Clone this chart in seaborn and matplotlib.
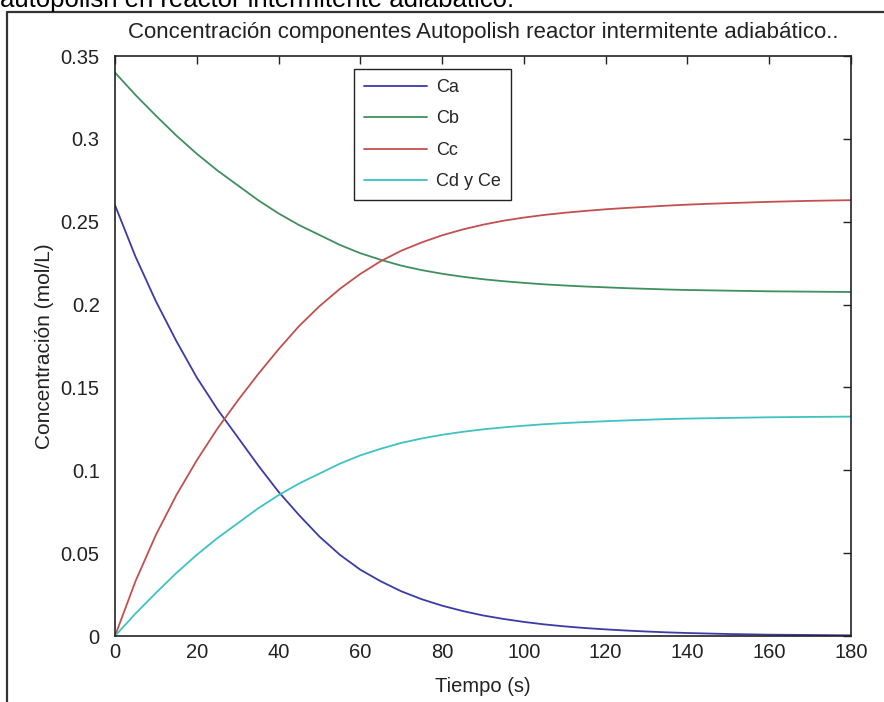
import matplotlib
matplotlib.use("Agg")
import matplotlib.pyplot as plt
from matplotlib.lines import Line2D
import seaborn as sns
import pandas as pd

# Concentration profiles (mol/L) of the adiabatic batch reactor, sampled every 5 s
tiempo = [0, 5, 10, 15, 20, 25, 30, 35, 40, 45, 50, 55, 60, 65, 70, 75, 80, 85,
          90, 95, 100, 105, 110, 115, 120, 125, 130, 135, 140, 145, 150, 155,
          160, 165, 170, 175, 180]
ca = [0.260, 0.229, 0.202, 0.178, 0.156, 0.137, 0.120, 0.103, 0.087, 0.073,
      0.060, 0.049, 0.040, 0.033, 0.027, 0.0222, 0.0183, 0.0151, 0.0124, 0.0103,
      0.0085, 0.0070, 0.0058, 0.0048, 0.0040, 0.0033, 0.0027, 0.0022, 0.0018,
      0.0015, 0.0012, 0.0010, 0.0008, 0.0007, 0.0006, 0.0005, 0.0004]
cb = [0.340, 0.3265, 0.314, 0.302, 0.291, 0.281, 0.272, 0.263, 0.255, 0.248,
      0.242, 0.236, 0.231, 0.227, 0.2235, 0.2208, 0.2186, 0.2168, 0.2153, 0.2141,
      0.2131, 0.2122, 0.2115, 0.2109, 0.2104, 0.2099, 0.2095, 0.2091, 0.2088,
      0.2086, 0.2084, 0.2082, 0.2080, 0.2079, 0.2078, 0.2077, 0.2076]
cc = [0.0, 0.033, 0.061, 0.085, 0.106, 0.125, 0.142, 0.158, 0.173, 0.187,
      0.199, 0.2095, 0.2185, 0.2262, 0.2325, 0.2375, 0.2418, 0.2453, 0.2482, 0.2506,
      0.2525, 0.2541, 0.2554, 0.2565, 0.2575, 0.2583, 0.2590, 0.2597, 0.2603,
      0.2608, 0.2612, 0.2616, 0.2620, 0.2623, 0.2626, 0.2628, 0.2630]
cd = [0.0, 0.0135, 0.026, 0.038, 0.049, 0.059, 0.068, 0.077, 0.085, 0.092,
      0.098, 0.104, 0.109, 0.113, 0.1165, 0.1192, 0.1214, 0.1232, 0.1247, 0.1259,
      0.1269, 0.1278, 0.1285, 0.1291, 0.1296, 0.1301, 0.1305, 0.1309, 0.1312,
      0.1314, 0.1316, 0.1318, 0.1320, 0.1321, 0.1322, 0.1323, 0.1324]
series_names = ["Ca", "Cb", "Cc", "Cd y Ce"]
colores = ["#3b3ba6", "#3f8f5f", "#c2504f", "#3ec2c2"]
yticks = [0, 0.05, 0.1, 0.15, 0.2, 0.25, 0.3, 0.35]
ytick_labels = ["0", "0.05", "0.1", "0.15", "0.2", "0.25", "0.3", "0.35"]
xticks = [0, 20, 40, 60, 80, 100, 120, 140, 160, 180]

df = pd.DataFrame({
    "Tiempo": tiempo * 4,
    "Conc": ca + cb + cc + cd,
    "Serie": sum([[n] * len(tiempo) for n in series_names], []),
})

sns.set_theme(style="white")
plt.rcParams["font.family"] = ["Liberation Sans", "DejaVu Sans"]
ink = "#222222"

fig = plt.figure(figsize=(8.84, 7.02), dpi=100)
fig.patch.set_facecolor("white")
ax = fig.add_axes([115 / 884, 66 / 702, 736 / 884, 580 / 702])

sns.lineplot(data=df, x="Tiempo", y="Conc", hue="Serie", hue_order=series_names,
             palette=colores, linewidth=1.3, ax=ax, legend=False)

ax.set_xlim(0, 180)
ax.set_ylim(0, 0.35)
ax.set_xticks(xticks)
ax.set_xticklabels([str(v) for v in xticks])
ax.set_yticks(yticks)
ax.set_yticklabels(ytick_labels)
ax.tick_params(direction="in", length=6, width=1, color=ink,
               top=True, right=True, labelsize=14.5, labelcolor=ink)
ax.tick_params(axis="y", pad=11)
ax.tick_params(axis="x", pad=5)
for s in ax.spines.values():
    s.set_color(ink)
    s.set_linewidth(1.2)

ax.set_title("Concentración componentes Autopolish reactor intermitente adiabático..",
             fontsize=16, color=ink, pad=13)
ax.set_xlabel("Tiempo (s)", fontsize=14.5, color=ink, labelpad=11)
ax.set_ylabel("Concentración (mol/L)", fontsize=15, color=ink, labelpad=5)

handles = [Line2D([], [], color=c, lw=1.3) for c in colores]
leg = ax.legend(handles, series_names, loc="upper left",
                bbox_to_anchor=((354 - 115) / 736, (636 - 69) / 580),
                borderaxespad=0, fontsize=13, handlelength=3.5,
                handletextpad=0.5, labelspacing=0.8, borderpad=0.55,
                frameon=True, fancybox=False, edgecolor=ink, framealpha=1)
leg.get_frame().set_linewidth(1.0)

# Page header line above the framed figure, partly cut off
fig.text(0.0, 1 - 7 / 702, "autopolish en reactor intermitente adiabático.",
         fontsize=18.5, color="black", va="baseline", ha="left")
# Frame around the figure on the page
fig.add_artist(Line2D([7 / 884, 7 / 884, 1.0], [0.0, 1 - 12 / 702, 1 - 12 / 702],
                      transform=fig.transFigure, color="#333333", lw=1.6))

fig.savefig("out.png", dpi=100)
